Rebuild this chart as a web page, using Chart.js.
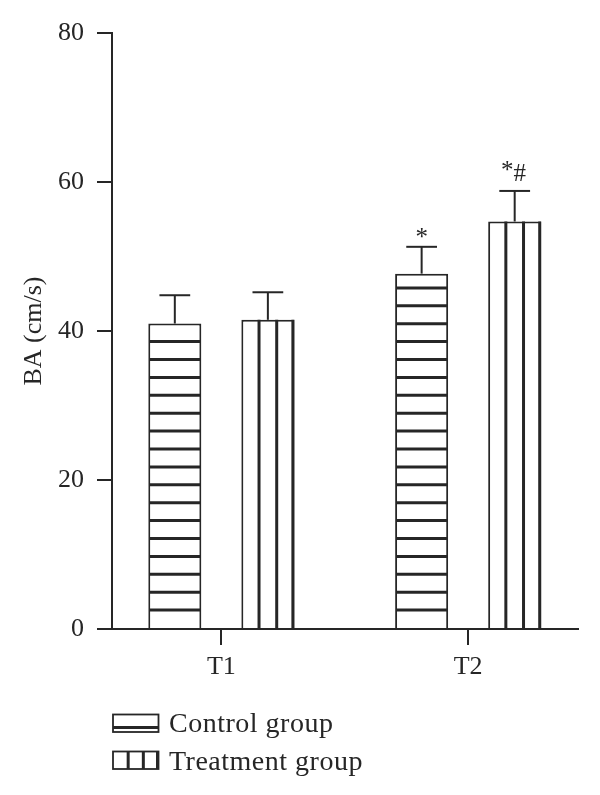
<!DOCTYPE html>
<html>
<head>
<meta charset="utf-8">
<script src="https://cdn.jsdelivr.net/npm/chart.js@4"></script>
<style>
  html, body { margin: 0; padding: 0; background: #ffffff; }
  #wrap { width: 600px; height: 795px; }
</style>
</head>
<body>
<div id="wrap"><canvas id="c" width="600" height="795"></canvas></div>
<script>
// ---- data ----
const categories = ['T1', 'T2'];
const seriesNames = ['Control group', 'Treatment group'];
const controlMeans = [41.0, 47.7];
const controlErrors = [3.8, 3.6];
const treatmentMeans = [41.5, 54.7];
const treatmentErrors = [3.7, 4.1];
const controlMarks = ['', '*'];
const treatmentMarks = ['', '*#'];
const yTicks = [0, 20, 40, 60, 80];
const yTitle = 'BA (cm/s)';

const INK = '#262626';
const FONT = "'Liberation Serif', 'Times New Roman', serif";
const STEP = 17.9;

function line(ctx, x1, y1, x2, y2) {
  ctx.beginPath(); ctx.moveTo(x1, y1); ctx.lineTo(x2, y2); ctx.stroke();
}

const decorPlugin = {
  id: 'decor',
  afterDatasetsDraw(chart) {
    const ctx = chart.ctx;
    const yScale = chart.scales.y;
    chart.data.datasets.forEach((ds, di) => {
      const meta = chart.getDatasetMeta(di);
      meta.data.forEach((bar, i) => {
        const p = bar.getProps(['x', 'y', 'base', 'width'], true);
        const left = p.x - p.width / 2, right = p.x + p.width / 2;
        ctx.save();
        ctx.strokeStyle = INK;
        ctx.lineWidth = 3;
        if (di === 0) {
          for (let yy = p.base - STEP; yy > p.y + 6; yy -= STEP) {
            line(ctx, left + 1, yy, right - 1, yy);
          }
        } else {
          for (let k = 1; k <= 3; k++) {
            const xx = k === 3 ? right - 1.5 : left + k * p.width / 3;
            line(ctx, xx, p.y, xx, p.base);
          }
        }
        // error bar (upper only)
        const topPix = yScale.getPixelForValue(ds.means[i] + ds.errors[i]);
        ctx.lineWidth = 2;
        line(ctx, p.x, p.y, p.x, topPix);
        const half = p.width * 0.29;
        line(ctx, p.x - half, topPix, p.x + half, topPix);
        // significance marks
        const mark = ds.marks[i];
        if (mark) {
          ctx.fillStyle = INK;
          ctx.textAlign = 'center';
          ctx.textBaseline = 'alphabetic';
          ctx.font = '25px ' + FONT;
          if (mark === '*') {
            ctx.fillText('*', p.x, topPix - 2);
          } else {
            ctx.fillText('*', p.x - 7.5, topPix - 13);
            ctx.fillText('#', p.x + 5, topPix - 10);
          }
        }
        ctx.restore();
      });
    });
  },
  afterDraw(chart) {
    const ctx = chart.ctx;
    const ca = chart.chartArea;
    const bx = ca.left + 1, bw = 45.5;
    ctx.save();
    ctx.strokeStyle = INK;
    ctx.fillStyle = '#ffffff';
    let by = ca.bottom + 85.5, bh = 17.5;
    ctx.lineWidth = 1.8;
    ctx.fillRect(bx, by, bw, bh);
    ctx.strokeRect(bx, by, bw, bh);
    ctx.lineWidth = 3;
    line(ctx, bx, by + 13, bx + bw, by + 13);
    let ty = ca.bottom + 122.5;
    ctx.lineWidth = 1.8;
    ctx.fillRect(bx, ty, bw, bh);
    ctx.strokeRect(bx, ty, bw, bh);
    ctx.lineWidth = 3;
    line(ctx, bx + bw / 3, ty, bx + bw / 3, ty + bh);
    line(ctx, bx + 2 * bw / 3, ty, bx + 2 * bw / 3, ty + bh);
    line(ctx, bx + bw - 1, ty, bx + bw - 1, ty + bh);
    ctx.fillStyle = INK;
    ctx.font = '28px ' + FONT;
    try { ctx.letterSpacing = '0.5px'; } catch (e) {}
    ctx.textAlign = 'left';
    ctx.textBaseline = 'alphabetic';
    ctx.fillText(seriesNames[0], bx + 56, by + 17.5);
    ctx.fillText(seriesNames[1], bx + 56, ty + 18);
    ctx.restore();
  }
};

const data = {
  datasets: [
    {
      label: seriesNames[0],
      data: controlMeans.map((v, i) => ({ x: i, y: v })),
      means: controlMeans, errors: controlErrors, marks: controlMarks,
      backgroundColor: '#ffffff', borderColor: INK, borderWidth: 2,
      categoryPercentage: 0.754, barPercentage: 0.57
    },
    {
      label: seriesNames[1],
      data: treatmentMeans.map((v, i) => ({ x: i, y: v })),
      means: treatmentMeans, errors: treatmentErrors, marks: treatmentMarks,
      backgroundColor: '#ffffff', borderColor: INK, borderWidth: 2,
      categoryPercentage: 0.754, barPercentage: 0.57
    }
  ]
};

new Chart(document.getElementById('c'), {
  type: 'bar',
  data: data,
  plugins: [decorPlugin],
  options: {
    responsive: false,
    animation: false,
    devicePixelRatio: 1,
    layout: { padding: { left: 0, top: 33, right: 22, bottom: 106 } },
    plugins: { legend: { display: false }, tooltip: { enabled: false } },
    scales: {
      x: {
        type: 'linear',
        offset: false,
        min: -0.443,
        max: 1.445,
        afterBuildTicks: (s) => { s.ticks = categories.map((c, i) => ({ value: i })); },
        afterFit: (s) => { s.height = 60; },
        grid: { offset: false, drawOnChartArea: false, drawTicks: true, tickLength: 16, color: INK, lineWidth: 2 },
        border: { display: true, color: INK, width: 2 },
        ticks: {
          padding: 7,
          color: INK,
          font: { family: FONT, size: 26 },
          callback: (v) => categories[v] !== undefined ? categories[v] : ''
        }
      },
      y: {
        min: 0,
        max: 80,
        afterBuildTicks: (s) => { s.ticks = yTicks.map(v => ({ value: v })); },
        afterFit: (s) => { s.width = 112; },
        grid: { drawOnChartArea: false, drawTicks: true, tickLength: 15, color: INK, lineWidth: 2 },
        border: { display: true, color: INK, width: 2 },
        ticks: { padding: 13, color: INK, font: { family: FONT, size: 26 } },
        title: {
          display: true,
          text: yTitle,
          color: INK,
          font: { family: FONT, size: 26 },
          padding: { top: 19, bottom: 0 }
        }
      }
    }
  }
});
</script>
</body>
</html>
